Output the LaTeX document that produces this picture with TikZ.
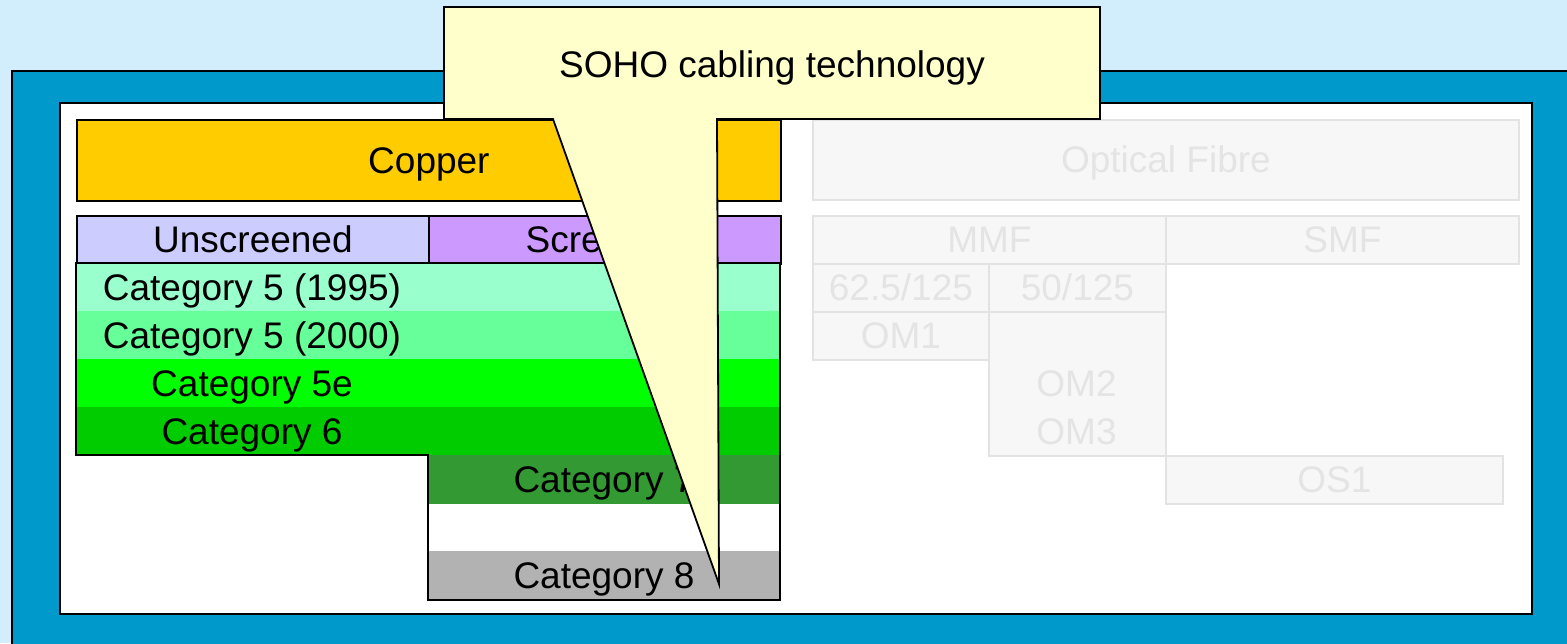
\documentclass[tikz,border=0pt]{standalone}
\usepackage{fontspec}
\setmainfont{Liberation Sans}
\definecolor{skyb}{HTML}{D2EDFC}
\definecolor{frameb}{HTML}{0099CC}
\definecolor{callfill}{HTML}{FFFFCC}
\definecolor{copperc}{HTML}{FFCC00}
\definecolor{unscr}{HTML}{CCCCFF}
\definecolor{scr}{HTML}{CC99FF}
\definecolor{catA}{HTML}{99FFCC}
\definecolor{catB}{HTML}{66FF99}
\definecolor{catC}{HTML}{00FF00}
\definecolor{catD}{HTML}{00CC00}
\definecolor{catE}{HTML}{339933}
\definecolor{catF}{HTML}{B2B2B2}
\definecolor{ghostfill}{HTML}{F7F7F7}
\definecolor{ghostline}{HTML}{E3E3E3}
\definecolor{ghosttext}{HTML}{E4E4E4}
\tikzset{
  txt/.style={font=\fontsize{37}{44}\selectfont, inner sep=0pt, text height=28pt, text depth=2pt},
  cell/.style={txt, draw=black, line width=1.8pt, anchor=north west, align=center},
  ghost/.style={txt, draw=ghostline, fill=ghostfill, text=ghosttext, line width=1.8pt, anchor=north west, align=center},
}
\begin{document}
\begin{tikzpicture}[x=1pt,y=-1pt]
\useasboundingbox (0,0) rectangle (1567,643);
\fill[skyb] (0,0) rectangle (1567,643);
% blue frame
\draw[fill=frameb, line width=1.8pt] (12,71) rectangle (1590,670);
% white panel
\draw[fill=white, line width=1.8pt] (60,103) rectangle (1532,614);

% Copper
\node[cell, fill=copperc, minimum width=704pt, minimum height=81pt] (copper) at (76,119) {Copper};
\node[cell, fill=unscr, minimum width=352pt, minimum height=48pt] (unscreened) at (76,215) {Unscreened};
\node[cell, fill=scr, minimum width=352pt, minimum height=48pt] (screened) at (428,215) {Screened};

% category bands
\fill[catA] (76,263) rectangle (780,311);
\fill[catB] (76,311) rectangle (780,359);
\fill[catC] (76,359) rectangle (780,407);
\fill[catD] (76,407) rectangle (780,455);
\fill[catE] (428,455) rectangle (780,504);
\fill[catF] (428,551) rectangle (780,600);
\draw[line width=1.8pt] (76,263) -- (780,263) -- (780,600) -- (428,600) -- (428,455) -- (76,455) -- cycle;
\node[txt] (c1) at (252,287) {Category 5 (1995)};
\node[txt] (c2) at (252,335) {Category 5 (2000)};
\node[txt] (c3) at (252,383) {Category 5e};
\node[txt] (c4) at (252,431) {Category 6};
\node[txt] (c7) at (604,479.5) {Category 7};
\node[txt] (c8) at (604,575.5) {Category 8};

% Optical fibre (ghosted)
\node[ghost, minimum width=706pt, minimum height=80pt] (fibre) at (812,119) {Optical Fibre};
\node[ghost, minimum width=353pt, minimum height=48pt] (mmf) at (812,215) {MMF};
\node[ghost, minimum width=353pt, minimum height=48pt] (smf) at (1165,215) {SMF};
\node[ghost, minimum width=176pt, minimum height=48pt] (m625) at (812,263) {62.5/125};
\node[ghost, minimum width=177pt, minimum height=48pt] (m50) at (988,263) {50/125};
\node[ghost, minimum width=176pt, minimum height=48pt] (om1) at (812,311) {OM1};
\node[ghost, minimum width=177pt, minimum height=144pt] (om23) at (988,311) {};
\node[txt, text=ghosttext] (om2) at (1076.5,383) {OM2};
\node[txt, text=ghosttext] (om3) at (1076.5,431) {OM3};
\node[ghost, minimum width=337pt, minimum height=48pt] (os1) at (1165,455) {OS1};

% callout
\draw[fill=callfill, line width=1.8pt, line join=miter]
  (444,7) -- (1100,7) -- (1100,119) -- (717,119) -- (719,584) -- (553,119) -- (444,119) -- cycle;
\node[txt] (soho) at (772,64) {SOHO cabling technology};
\end{tikzpicture}
\end{document}
